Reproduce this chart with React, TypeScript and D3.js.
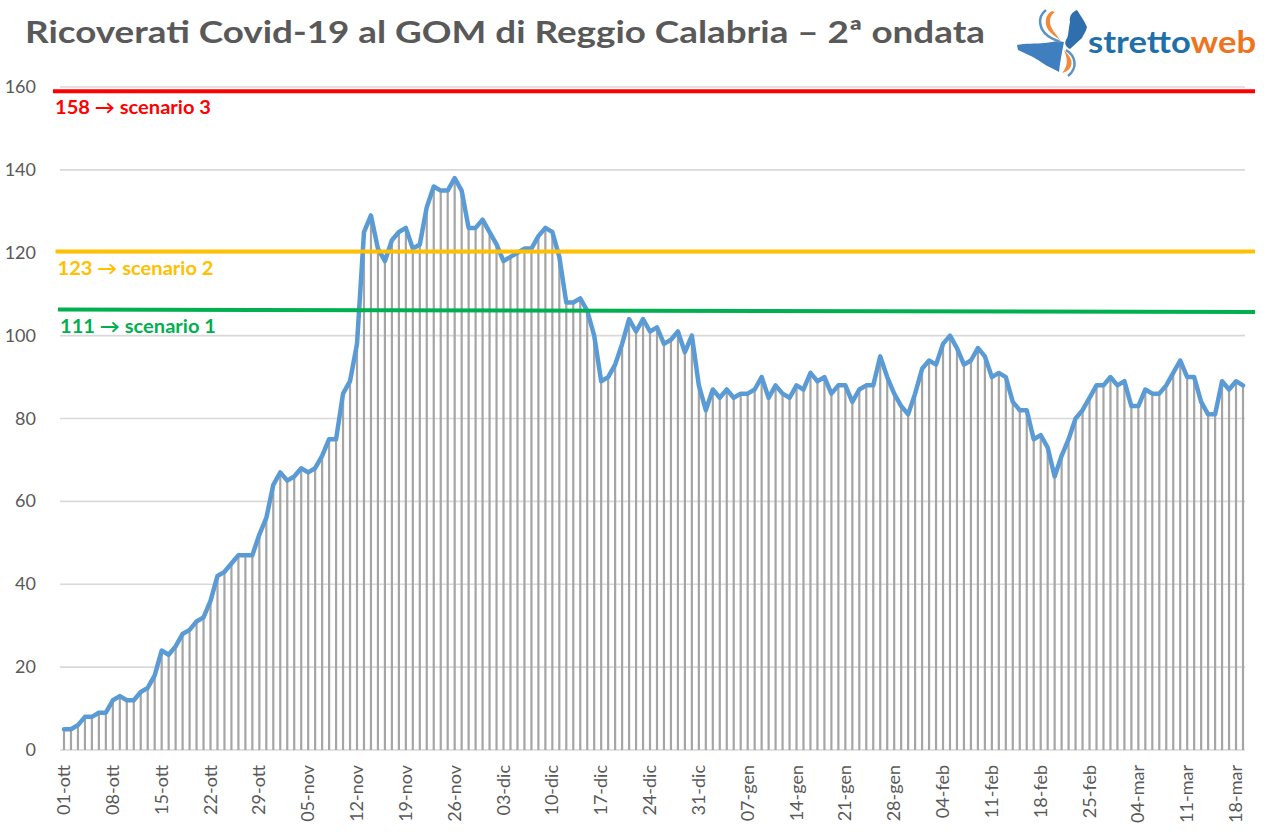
import React from 'react';
import * as d3 from 'd3';

// ricoverati giornalieri dal 01-ott al 19-mar
const ricoverati = [
  5, 5, 6, 8, 8, 9, 9, 12, 13, 12,
  12, 14, 15, 18, 24, 23, 25, 28, 29, 31,
  32, 36, 42, 43, 45, 47, 47, 47, 52, 56,
  64, 67, 65, 66, 68, 67, 68, 71, 75, 75,
  86, 89, 98, 125, 129, 121, 118, 123, 125, 126,
  121, 122, 131, 136, 135, 135, 138, 135, 126, 126,
  128, 125, 122, 118, 119, 120, 121, 121, 124, 126,
  125, 119, 108, 108, 109, 106, 100, 89, 90, 93,
  98, 104, 101, 104, 101, 102, 98, 99, 101, 96,
  100, 88, 82, 87, 85, 87, 85, 86, 86, 87,
  90, 85, 88, 86, 85, 88, 87, 91, 89, 90,
  86, 88, 88, 84, 87, 88, 88, 95, 90, 86,
  83, 81, 86, 92, 94, 93, 98, 100, 97, 93,
  94, 97, 95, 90, 91, 90, 84, 82, 82, 75,
  76, 73, 66, 71, 75, 80, 82, 85, 88, 88,
  90, 88, 89, 83, 83, 87, 86, 86, 88, 91,
  94, 90, 90, 84, 81, 81, 89, 87, 89, 88,
];

// one label every 7 days
const tickLabels = [
  '01-ott', '08-ott', '15-ott', '22-ott', '29-ott', '05-nov', '12-nov', '19-nov', '26-nov',
  '03-dic', '10-dic', '17-dic', '24-dic', '31-dic', '07-gen', '14-gen', '21-gen', '28-gen',
  '04-feb', '11-feb', '18-feb', '25-feb', '04-mar', '11-mar', '18-mar',
];
const tickStep = 7;

const yTicks = [0, 20, 40, 60, 80, 100, 120, 140, 160];

// scenario lines: value at start and end as drawn
const scenarioLabels = ['158 \u2192 scenario 3', '123 \u2192 scenario 2', '111 \u2192 scenario 1'];
const scenarioStart = [159, 120.3, 106.3];
const scenarioEnd = [159, 120.3, 105.7];
const scenarioColors = ['#ff0000', '#ffc000', '#00b050'];

const W = 1267;
const H = 839;
const FONT = 'Lato, "Open Sans", sans-serif';

export default function App() {
  const x = d3.scaleLinear().domain([0, ricoverati.length - 1]).range([64, 1243]);
  const y = d3.scaleLinear().domain([0, 160]).range([750, 87]);

  const line = d3
    .line<number>()
    .x((_, i) => x(i))
    .y(d => y(d));

  const gridLeft = 60;
  const gridRight = 1245;

  return (
    <svg
      width={W}
      height={H}
      style={{ position: 'absolute', left: 0, top: 0, background: '#fff' }}
      fontFamily={FONT}
    >
      <rect width={W} height={H} fill="#fff" />

      {/* title */}
      <text x={25} y={43} fontSize={31} fontWeight={700} fill="#595959" textLength={960} lengthAdjust="spacingAndGlyphs">
        Ricoverati Covid-19 al GOM di Reggio Calabria – 2ª ondata
      </text>

      {/* logo */}
      <g>
        {/* sicilia */}
        <path
          d="M1017,45 C1025,43 1035,44 1045,43 C1052,42 1058,40 1064,42 C1062,52 1060,62 1059,72 C1052,68 1046,66 1038,60 C1030,55 1022,52 1018,50 Z"
          fill="#3f7fbf"
        />
        {/* calabria */}
        <path
          d="M1070,22 C1069,16 1072,12 1077,10 C1080,15 1084,20 1087,27 C1086,32 1083,35 1082,38 C1078,42 1074,45 1070,49 C1066,47 1064,44 1066,40 C1069,36 1068,30 1070,22 Z"
          fill="#2f6fae"
        />
        {/* swirls */}
        <path d="M1052,11 C1044,15 1044,26 1050,32 C1054,36 1058,38 1061,41 C1056,34 1050,28 1050,22 C1050,17 1052,14 1055,12 Z" fill="#f08a3c" />
        <path d="M1046,10 C1036,18 1040,30 1048,36 C1052,39 1056,40 1060,42" fill="none" stroke="#5b93c9" strokeWidth={2.5} />
        <path d="M1064,50 C1070,56 1074,62 1070,68 C1068,71 1065,72 1062,73 C1068,66 1068,60 1064,50 Z" fill="#f08a3c" />
        <path d="M1066,50 C1076,56 1078,68 1068,76" fill="none" stroke="#5b93c9" strokeWidth={2.5} />
        <text x={1088} y={53} fontSize={31} fontWeight={700} textLength={168} lengthAdjust="spacingAndGlyphs">
          <tspan fill="#1f6fa8">stretto</tspan>
          <tspan fill="#ee7420">web</tspan>
        </text>
      </g>

      {/* grid */}
      {yTicks.map(t => (
        <line key={t} x1={gridLeft} x2={gridRight} y1={y(t)} y2={y(t)} stroke="#d9d9d9" strokeWidth={1.6} />
      ))}

      {/* y labels */}
      {yTicks.map(t => (
        <text key={t} x={36} y={y(t) + 6} textAnchor="end" fontSize={18} fill="#595959">
          {t}
        </text>
      ))}

      {/* bars */}
      {ricoverati.map((v, i) => (
        <rect key={i} x={x(i) - 1.1} width={2.2} y={y(v)} height={y(0) - y(v)} fill="#a5a5a5" />
      ))}

      {/* line */}
      <path d={line(ricoverati) ?? ''} fill="none" stroke="#5b9bd5" strokeWidth={4.5} strokeLinejoin="round" strokeLinecap="round" />

      {/* scenario lines */}
      {scenarioLabels.map((lab, k) => (
        <g key={lab}>
          <line
            x1={53 + k * 2.5}
            x2={1255}
            y1={y(scenarioStart[k])}
            y2={y(scenarioEnd[k])}
            stroke={scenarioColors[k]}
            strokeWidth={4}
          />
          <text
            x={55 + k * 2.5}
            y={y(scenarioStart[k]) + 23}
            fontSize={18}
            fontWeight={700}
            fill={scenarioColors[k]}
            textLength={156}
            lengthAdjust="spacingAndGlyphs"
          >
            {lab}
          </text>
        </g>
      ))}

      {/* x labels */}
      {tickLabels.map((lab, k) => (
        <text
          key={lab}
          transform={`translate(${x(k * tickStep) + 6},765) rotate(-90)`}
          textAnchor="end"
          fontSize={18}
          fill="#595959"
        >
          {lab}
        </text>
      ))}
    </svg>
  );
}
